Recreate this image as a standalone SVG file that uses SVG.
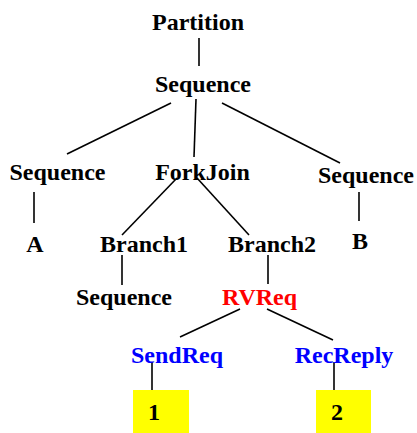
<svg xmlns="http://www.w3.org/2000/svg" width="417" height="433" viewBox="0 0 417 433">
  <style>
    text { font-family: "Liberation Serif", "Times New Roman", serif; font-weight: bold; font-size: 24px; text-anchor: middle; fill: #000; }
    .red { fill: #ff0000; }
    .blue { fill: #0000ff; }
    .edge { stroke: #000; stroke-width: 1.6; fill: none; }
    .box { fill: #ffff00; }
  </style>
  <rect width="417" height="433" fill="#fff"/>
  <g id="connectors">
    <line class="edge" x1="199" y1="38" x2="199" y2="66"/>
    <line class="edge" x1="171" y1="103" x2="67" y2="154"/>
    <line class="edge" x1="196" y1="99" x2="194" y2="157"/>
    <line class="edge" x1="222" y1="103" x2="340" y2="163"/>
    <line class="edge" x1="34" y1="192" x2="34" y2="223"/>
    <line class="edge" x1="177" y1="178" x2="122" y2="235"/>
    <line class="edge" x1="197" y1="178" x2="249" y2="235"/>
    <line class="edge" x1="359" y1="192" x2="359" y2="221"/>
    <line class="edge" x1="122" y1="255" x2="122" y2="285"/>
    <line class="edge" x1="268" y1="255" x2="268" y2="284"/>
    <line class="edge" x1="240" y1="309" x2="180" y2="337"/>
    <line class="edge" x1="267" y1="309" x2="333" y2="340"/>
    <line class="edge" x1="152" y1="362" x2="152" y2="390"/>
    <line class="edge" x1="334" y1="362" x2="334" y2="390"/>
  </g>
  <g id="partition"><text x="198" y="30">Partition</text></g>
  <g id="sequence-root"><text x="203" y="92">Sequence</text></g>
  <g id="sequence-left"><text x="57.5" y="180">Sequence</text></g>
  <g id="forkjoin"><text x="202.5" y="180">ForkJoin</text></g>
  <g id="sequence-right"><text x="366" y="183">Sequence</text></g>
  <g id="a"><text x="35" y="252">A</text></g>
  <g id="branch1"><text x="144" y="252">Branch1</text></g>
  <g id="branch2"><text x="272" y="252">Branch2</text></g>
  <g id="b"><text x="360" y="249">B</text></g>
  <g id="sequence-branch1"><text x="124" y="305">Sequence</text></g>
  <g id="rvreq"><text class="red" x="259.5" y="305">RVReq</text></g>
  <g id="sendreq"><text class="blue" x="177" y="363">SendReq</text></g>
  <g id="recreply"><text class="blue" x="344" y="363">RecReply</text></g>
  <g id="box1">
    <rect class="box" x="133" y="390" width="56" height="43"/>
    <text x="154" y="420">1</text>
  </g>
  <g id="box2">
    <rect class="box" x="316" y="390" width="55" height="43"/>
    <text x="337" y="420">2</text>
  </g>
</svg>
